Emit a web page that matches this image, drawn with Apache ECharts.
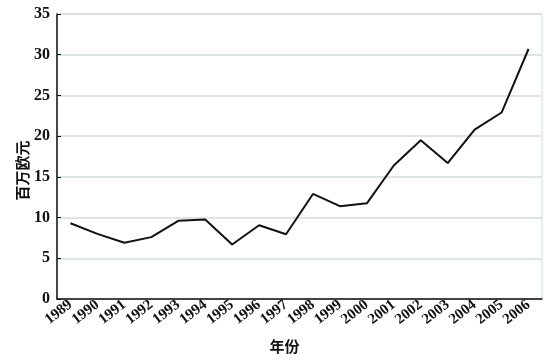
<!DOCTYPE html>
<html><head><meta charset="utf-8">
<script src="https://cdn.jsdelivr.net/npm/echarts@6/dist/echarts.min.js"></script>
<style>html,body{margin:0;padding:0;background:#fff}#c{width:554px;height:360px}</style>
</head><body><div id="c"></div>
<script>
const years = ['1989','1990','1991','1992','1993','1994','1995','1996','1997','1998','1999','2000','2001','2002','2003','2004','2005','2006'];
const values = [9.3, 8.0, 6.9, 7.6, 9.6, 9.75, 6.7, 9.05, 7.95, 12.9, 11.4, 11.75, 16.4, 19.5, 16.7, 20.8, 22.9, 30.7];
const yTicks = [0, 5, 10, 15, 20, 25, 30, 35];
const xName = '年份';
const yName = '百万欧元';

const chart = echarts.init(document.getElementById('c'), null, {renderer: 'canvas'});
chart.setOption({
  animation: false,
  grid: {left: 57, right: 12, top: 14, bottom: 61, show: true, borderColor: '#d3dcdc', borderWidth: 1},
  xAxis: {
    type: 'category', data: years, boundaryGap: true,
    name: xName, nameLocation: 'middle', nameGap: 40,
    nameTextStyle: {fontFamily: 'Noto Sans CJK SC', fontWeight: 'bold', fontSize: 15, color: '#111', padding: [0, 30, 0, 0]},
    axisLine: {lineStyle: {color: '#111', width: 1.5}},
    axisTick: {inside: true, length: 5, lineStyle: {color: '#111', width: 1.2}},
    axisLabel: {rotate: 38, margin: 4, fontFamily: 'Liberation Serif', fontWeight: 'bold', fontSize: 15, color: '#111', interval: 0},
    splitLine: {show: false}
  },
  yAxis: {
    type: 'value', min: yTicks[0], max: yTicks[yTicks.length - 1], interval: 5,
    name: yName, nameLocation: 'middle', nameGap: 27, nameRotate: 90, nameMoveOverlap: false,
    nameTextStyle: {fontFamily: 'Noto Sans CJK SC', fontWeight: 'bold', fontSize: 15, color: '#111', padding: [0, 28, 0, 0]},
    axisLine: {show: true, lineStyle: {color: '#111', width: 1.5}},
    axisTick: {show: true, inside: true, length: 4, lineStyle: {color: '#111'}},
    axisLabel: {margin: 7, fontFamily: 'Liberation Serif', fontWeight: 'bold', fontSize: 16, color: '#111'},
    splitLine: {show: true, lineStyle: {color: '#d3dcdc', width: 1.5}}
  },
  series: [{
    type: 'line', data: values, showSymbol: false, symbol: 'none',
    lineStyle: {color: '#111', width: 2}
  }]
});
</script></body></html>
